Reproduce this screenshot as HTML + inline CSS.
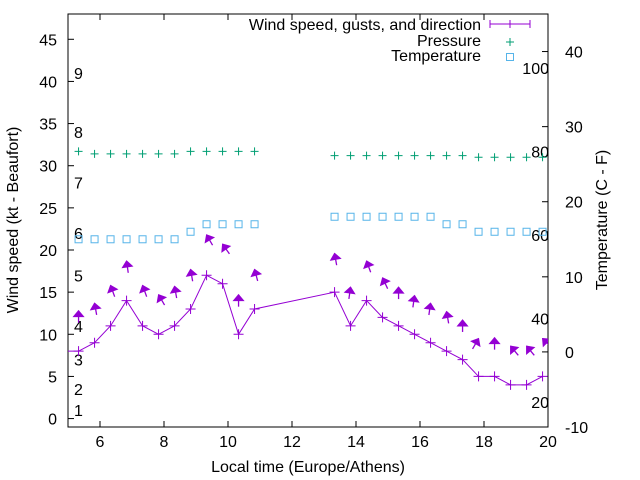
<!DOCTYPE html>
<html><head><meta charset="utf-8"><style>body{margin:0;background:#fff}svg{display:block}text{font-family:"Liberation Sans",sans-serif;font-size:16px;fill:#000}</style></head>
<body>
<svg id="chart" width="640" height="480" viewBox="0 0 640 480" xmlns="http://www.w3.org/2000/svg"></svg>
<script>
const times1=[5.33,5.83,6.33,6.83,7.33,7.83,8.33,8.83,9.33,9.83,10.33,10.83];
const times2=[13.33,13.83,14.33,14.83,15.33,15.83,16.33,16.83,17.33,17.83,18.33,18.83,19.33,19.83];
const wind1=[8,9,11,14,11,10,11,13,17,16,10,13];
const wind2=[15,11,14,12,11,10,9,8,7,5,5,4,4,5];
const gust1=[12.8,13.7,15.8,18.7,15.8,14.7,15.7,17.7,21.8,20.7,14.7,17.7];
const gust2=[19.6,15.6,18.7,16.7,15.6,14.6,13.7,12.7,11.7,9.5,9.6,8.6,8.6,9.5];
const dir1=[0,-10,-20,-8,-20,-30,-10,-10,-30,-35,0,-15];
const dir2=[-10,8,-20,-25,0,8,8,-10,0,30,0,-40,-40,-45];
const press1=[31.7,31.4,31.4,31.4,31.4,31.4,31.4,31.7,31.7,31.7,31.7,31.7];
const press2=[31.2,31.2,31.2,31.2,31.2,31.2,31.2,31.2,31.2,31.0,31.0,31.0,31.0,31.0];
const temp1=[15,15,15,15,15,15,15,16,17,17,17,17];
const temp2=[18,18,18,18,18,18,18,17,17,16,16,16,16,16];
const xTicks=[6,8,10,12,14,16,18,20];
const yTicks=[0,5,10,15,20,25,30,35,40,45];
const y2Ticks=[-10,0,10,20,30,40];
const beaufort=[[1,1],[2,3.5],[3,7],[4,11],[5,17],[6,22],[7,28],[8,34],[9,41]];
const fahr=[20,40,60,80,100];

const L=68,R=548,T=14,B=427;
const X=t=>L+(t-5)/15*(R-L);
const Y=v=>B-(v+1)/49*(B-T);
const Y2=c=>B-(c+10)/55*(B-T);
const svg=document.getElementById('chart');
const NS='http://www.w3.org/2000/svg';
function el(tag,attrs,parent){const e=document.createElementNS(NS,tag);for(const k in attrs)e.setAttribute(k,attrs[k]);(parent||svg).appendChild(e);return e;}
function txt(s,x,y,anchor,name){const e=el('text',{x:x,y:y,'text-anchor':anchor||'start'});e.textContent=s;


return e;}

const clip=el('clipPath',{id:'pc'});el('rect',{x:L,y:T,width:R-L,height:B-T},clip);

xTicks.forEach(t=>{const x=X(t);
const g=el('path',{d:`M${x},${B}v-6M${x},${T}v6`,stroke:'#000','stroke-width':1});


txt(String(t),x,B+20,'middle','x-tick-label');});
yTicks.forEach(v=>{const y=Y(v);
const g=el('path',{d:`M${L},${y}h6`,stroke:'#000'});


txt(String(v),57,y+6,'end','y-tick-label');});
y2Ticks.forEach(v=>{const y=Y2(v);
const g=el('path',{d:`M${R},${y}h-6`,stroke:'#000'});


txt(String(v),565,y+6,'start','y2-tick-label');});
beaufort.forEach(b=>txt(String(b[0]),74,Y(b[1])+6,'start','beaufort-label'));
fahr.forEach(f=>txt(String(f),549,Y2((f-32)*5/9)+6,'end','fahrenheit-label'));

const border=el('rect',{x:L,y:T,width:R-L,height:B-T,fill:'none',stroke:'#000'});



const plot=el('g',{'clip-path':'url(#pc)'});



const allT=[4.83].concat(times1,times2), allW=[8].concat(wind1,wind2);
const line=el('polyline',{points:allT.map((t,i)=>X(t)+','+Y(allW[i])).join(' '),fill:'none',stroke:'#9400d3','stroke-width':1},plot);


allT.forEach((t,i)=>{const x=X(t),y=Y(allW[i]);
const m=el('path',{d:`M${x-5},${y}h10M${x},${y-5}v10`,stroke:'#9400d3'},plot);

});

function arrows(ts,gs,ds){ts.forEach((t,i)=>{const hx=X(t),hy=Y(gs[i]);const a=ds[i]*Math.PI/180;
const ux=Math.sin(a),uy=-Math.cos(a);const len=12;
const tx=hx-ux*len,ty=hy-uy*len;
const g=el('g',{},plot);


el('line',{x1:tx,y1:ty,x2:hx,y2:hy,stroke:'#9400d3','stroke-width':1.3},g);
const bx=hx-ux*6,by=hy-uy*6,px=-uy*5,py=ux*5;
el('polygon',{points:`${hx},${hy} ${bx+px},${by+py} ${bx-px},${by-py}`,fill:'#9400d3',stroke:'#9400d3'},g);});}
arrows(times1,gust1,dir1);arrows(times2,gust2,dir2);

function press(ts,ps){ts.forEach((t,i)=>{const x=X(t),y=Y(ps[i]);
const m=el('path',{d:`M${x-4},${y}h8M${x},${y-4}v8`,stroke:'#009e73'},plot);

});}
press(times1,press1);press(times2,press2);
function temps(ts,cs){ts.forEach((t,i)=>{const x=X(t),y=Y2(cs[i]);
const m=el('rect',{x:x-3.5,y:y-3.5,width:7,height:7,fill:'none',stroke:'#56b4e9'},plot);

});}
temps(times1,temp1);temps(times2,temp2);

txt('Wind speed, gusts, and direction',481,30,'end','legend-wind-label');
let lg=el('path',{d:'M490,24h40M490,20v8M530,20v8M510,20v8',stroke:'#9400d3'});


txt('Pressure',481,46,'end','legend-pressure-label');
lg=el('path',{d:'M506,42h8M510,38v8',stroke:'#009e73'});


txt('Temperature',481,61,'end','legend-temperature-label');
lg=el('rect',{x:506.5,y:53.5,width:7,height:7,fill:'none',stroke:'#56b4e9'});



txt('Local time (Europe/Athens)',308,472,'middle','x-axis-title');
const yt=txt('Wind speed (kt - Beaufort)',18,220,'middle','y-axis-title');yt.setAttribute('transform','rotate(-90 18 220)');
const yt2=txt('Temperature (C - F)',607,220,'middle','y2-axis-title');yt2.setAttribute('transform','rotate(-90 607 220)');
</script>
</body></html>
